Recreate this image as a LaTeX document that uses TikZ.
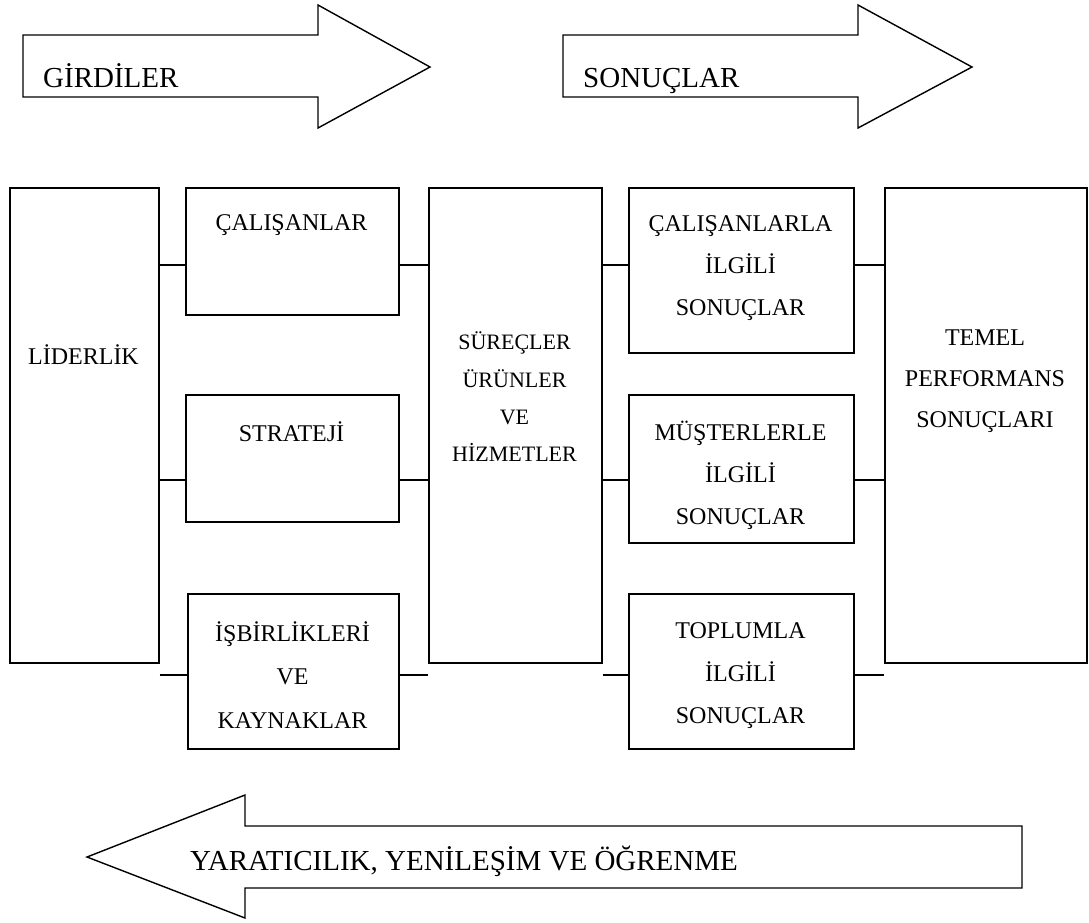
\documentclass[tikz,border=0pt]{standalone}
\usepackage{fontspec}
\setmainfont{Liberation Serif}
\begin{document}
\begin{tikzpicture}[x=1pt,y=-1pt,
  box/.style={draw, line width=1.6pt, rectangle, inner sep=0pt, anchor=north west},
  lbl/.style={align=center, inner sep=0pt, font=\fontsize{24}{41.7}\selectfont},
  bigtxt/.style={inner sep=0pt, font=\fontsize{29}{34}\selectfont, anchor=base west},
  conn/.style={line width=1.6pt},
  arr/.style={draw, line width=1.4pt, line join=miter}]
\useasboundingbox (0,0) rectangle (1089,922);
% top arrows
\draw[arr] (23,35) -- (318,35) -- (318,5) -- (430,67) -- (318,128) -- (318,97) -- (23,97) -- cycle;
\node[bigtxt] (gir) at (43,87) {GİRDİLER};
\draw[arr] (563,35) -- (858,35) -- (858,5) -- (972,67) -- (858,128) -- (858,97) -- (563,97) -- cycle;
\node[bigtxt] (son) at (583,87) {SONUÇLAR};
% bottom arrow
\draw[arr] (1022,826) -- (245,826) -- (245,795) -- (87,857) -- (245,918) -- (245,888) -- (1022,888) -- cycle;
\node[bigtxt] (yar) at (190,870) {YARATICILIK, YENİLEŞİM VE ÖĞRENME};
% boxes
\node[box, minimum width=149, minimum height=475] (lid) at (9,187) {};
\node[box, minimum width=213, minimum height=127] (cal) at (185,187) {};
\node[box, minimum width=213, minimum height=127] (str) at (185,394) {};
\node[box, minimum width=211, minimum height=155] (isb) at (187,593) {};
\node[box, minimum width=173, minimum height=475] (sur) at (428,187) {};
\node[box, minimum width=225, minimum height=165] (cls) at (628,187) {};
\node[box, minimum width=225, minimum height=148] (mus) at (628,394) {};
\node[box, minimum width=225, minimum height=155] (top) at (628,593) {};
\node[box, minimum width=202, minimum height=475] (tem) at (884,187) {};
% labels
\node[lbl] (lidt) at (83.5,355) {LİDERLİK};
\node[lbl] (calt) at (291.5,225) {ÇALIŞANLAR};
\node[lbl] (strt) at (291.5,432) {STRATEJİ};
\node[lbl, font=\fontsize{24}{43.5}\selectfont] (isbt) at (292.5,675) {İŞBİRLİKLERİ\\VE\\KAYNAKLAR};
\node[lbl, font=\fontsize{22}{37.3}\selectfont] (surt) at (514.5,397) {SÜREÇLER\\ÜRÜNLER\\VE\\HİZMETLER};
\node[lbl] (clst) at (740.5,268) {ÇALIŞANLARLA\\İLGİLİ\\SONUÇLAR};
\node[lbl] (must) at (740.5,475.5) {MÜŞTERLERLE\\İLGİLİ\\SONUÇLAR};
\node[lbl, font=\fontsize{24}{42.5}\selectfont] (topt) at (740.5,676) {TOPLUMLA\\İLGİLİ\\SONUÇLAR};
\node[lbl, font=\fontsize{24}{41}\selectfont] (temt) at (985,381) {TEMEL\\PERFORMANS\\SONUÇLARI};
% connector rows
\coordinate (r1) at (0,265);
\coordinate (r2) at (0,480);
\coordinate (r3) at (0,675);
\draw[conn] (lid.east |- r1) -- (cal.west |- r1);
\draw[conn] (cal.east |- r1) -- (sur.west |- r1);
\draw[conn] (sur.east |- r1) -- (cls.west |- r1);
\draw[conn] (cls.east |- r1) -- (tem.west |- r1);
\draw[conn] (lid.east |- r2) -- (str.west |- r2);
\draw[conn] (str.east |- r2) -- (sur.west |- r2);
\draw[conn] (sur.east |- r2) -- (mus.west |- r2);
\draw[conn] (mus.east |- r2) -- (tem.west |- r2);
\draw[conn] (lid.east |- r3) -- (isb.west |- r3);
\draw[conn] (isb.east |- r3) -- (sur.west |- r3);
\draw[conn] (sur.east |- r3) -- (top.west |- r3);
\draw[conn] (top.east |- r3) -- (tem.west |- r3);
\end{tikzpicture}
\end{document}
